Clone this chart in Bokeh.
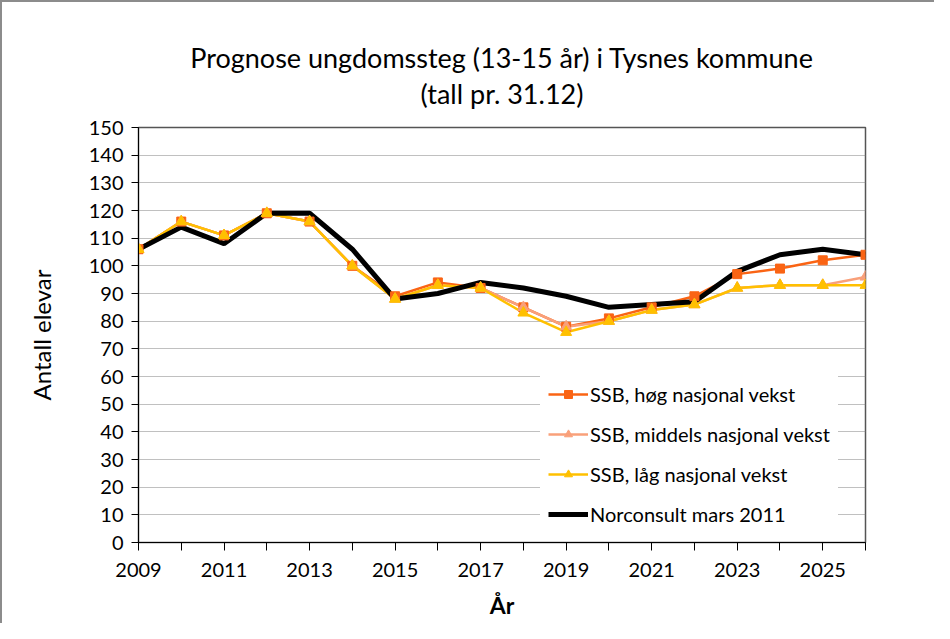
from bokeh.plotting import figure
from bokeh.embed import file_html
from bokeh.resources import INLINE
from bokeh.models import FixedTicker, Legend, LegendItem, Range1d, Title

years = list(range(2009, 2027))
hoeg = [106, 116, 111, 119, 116, 100, 89, 94, 92, 85, 78, 81, 85, 89, 97, 99, 102, 104]
middels = [106, 116, 111, 119, 116, 100, 88, 93, 92, 85, 78, 80, 84, 86, 92, 93, 93, 96]
laag = [106, 116, 111, 119, 116, 100, 88, 93, 92, 83, 76, 80, 84, 86, 92, 93, 93, 93]
norconsult = [106, 114, 108, 119, 119, 106, 88, 90, 94, 92, 89, 85, 86, 87, 98, 104, 106, 104]

label_years = list(range(2009, 2026, 2))
other_years = [y for y in years if y not in label_years]
y_ticks = list(range(0, 151, 10))

title_main = "Prognose ungdomssteg (13-15 år) i Tysnes kommune"
title_sub = "(tall pr. 31.12)"
series_names = ["SSB, høg nasjonal vekst", "SSB, middels nasjonal vekst",
                "SSB, låg nasjonal vekst", "Norconsult mars 2011"]
colors = ["#FA6414", "#F9A07A", "#FFC000", "#000000"]

FONT = "Lato"

p = figure(width=934, height=623, output_backend="svg", toolbar_location=None,
           x_range=Range1d(2009, 2026), y_range=Range1d(0, 150),
           min_border_left=136, min_border_right=71, min_border_top=125, min_border_bottom=83)

# main title (outermost) and subtitle (closest to frame)
p.title.text = title_main
p.title.align = "center"
p.title.text_font = FONT
p.title.text_font_size = "27px"
p.title.text_font_style = "normal"
p.title.text_color = "#000000"
p.title.standoff = -32
p.add_layout(Title(text=title_sub, align="center", text_font=FONT, text_font_size="27px",
                   text_font_style="normal", text_color="#000000", standoff=35), "above")

p.outline_line_color = "#555555"
p.outline_line_width = 1.5

# axes
p.xaxis.ticker = FixedTicker(ticks=label_years, minor_ticks=other_years)
p.xaxis.major_tick_out = 8
p.xaxis.major_tick_in = 0
p.xaxis.minor_tick_out = 8
p.xaxis.minor_tick_in = 0
p.xaxis.axis_line_color = "#000000"
p.xaxis.major_tick_line_color = "#000000"
p.xaxis.minor_tick_line_color = "#000000"
p.xaxis.major_label_text_font = FONT
p.xaxis.major_label_text_font_size = "20px"
p.xaxis.major_label_text_color = "#000000"
p.xaxis.major_label_standoff = 12
p.xaxis.axis_label = "År"
p.xaxis.axis_label_text_font = FONT
p.xaxis.axis_label_text_font_size = "23px"
p.xaxis.axis_label_text_font_style = "bold"
p.xaxis.axis_label_text_color = "#000000"
p.xaxis.axis_label_standoff = 11

p.yaxis.ticker = FixedTicker(ticks=y_ticks)
p.yaxis.major_tick_out = 7
p.yaxis.major_tick_in = 0
p.yaxis.minor_tick_out = 0
p.yaxis.axis_line_color = "#000000"
p.yaxis.major_tick_line_color = "#000000"
p.yaxis.major_label_text_font = FONT
p.yaxis.major_label_text_font_size = "20px"
p.yaxis.major_label_text_color = "#000000"
p.yaxis.major_label_standoff = 8
p.yaxis.axis_label = "Antall elevar"
p.yaxis.axis_label_text_font = FONT
p.yaxis.axis_label_text_font_size = "24px"
p.yaxis.axis_label_text_font_style = "normal"
p.yaxis.axis_label_text_color = "#000000"
p.yaxis.axis_label_standoff = 30

p.xgrid.visible = False
p.ygrid.grid_line_color = "#808080"
p.ygrid.grid_line_dash = "1 1"
p.ygrid.grid_line_width = 1

# lines, then markers on top
l_h = p.line(years, hoeg, line_color=colors[0], line_width=2.5)
l_m = p.line(years, middels, line_color=colors[1], line_width=2.5)
l_l = p.line(years, laag, line_color=colors[2], line_width=2.5)
l_n = p.line(years, norconsult, line_color=colors[3], line_width=5)
m_h = p.scatter(years, hoeg, marker="square", size=9, fill_color=colors[0], line_color=colors[0])
m_m = p.scatter(years, middels, marker="triangle", size=11, fill_color=colors[1], line_color=colors[1])
m_l = p.scatter(years, laag, marker="triangle", size=11, fill_color=colors[2], line_color=colors[2])

legend = Legend(items=[
    LegendItem(label=series_names[0], renderers=[l_h, m_h]),
    LegendItem(label=series_names[1], renderers=[l_m, m_m]),
    LegendItem(label=series_names[2], renderers=[l_l, m_l]),
    LegendItem(label=series_names[3], renderers=[l_n]),
], location=(402, 8))
legend.label_text_font = FONT
legend.label_text_font_size = "20px"
legend.label_text_color = "#000000"
legend.glyph_width = 40
legend.glyph_height = 20
legend.label_standoff = 2
legend.spacing = 16
legend.padding = 8
legend.margin = 0
legend.border_line_alpha = 0
legend.background_fill_color = "#ffffff"
legend.background_fill_alpha = 1
p.add_layout(legend, "center")

p.styles = {"border-left": "2px solid #8c8c8c", "border-top": "2px solid #8c8c8c"}

open("out.html", "w").write(file_html(p, INLINE))
